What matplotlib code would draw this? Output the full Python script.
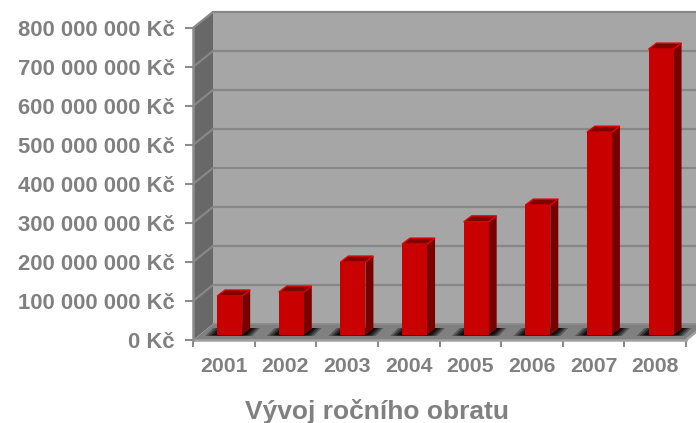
import matplotlib
matplotlib.use("Agg")
import matplotlib.pyplot as plt
from matplotlib.patches import Polygon

years = ['2001', '2002', '2003', '2004', '2005', '2006', '2007', '2008']
turnover = [100e6, 110e6, 187e6, 233e6, 290e6, 333e6, 520e6, 733e6]
y_ticks = [0, 100e6, 200e6, 300e6, 400e6, 500e6, 600e6, 700e6, 800e6]
y_labels = ['0 Kč', '100 000 000 Kč', '200 000 000 Kč', '300 000 000 Kč', '400 000 000 Kč',
            '500 000 000 Kč', '600 000 000 Kč', '700 000 000 Kč', '800 000 000 Kč']
title = 'Vývoj ročního obratu'

W, H = 696, 423
plt.rcParams['font.family'] = ['Liberation Sans', 'DejaVu Sans']
fig = plt.figure(figsize=(W / 100, H / 100), dpi=100, facecolor='white')
# front plane of the 3d box, in pixels
left, right, bottom, top = 193, 686, 340, 28
ax = fig.add_axes([left / W, 1 - bottom / H, (right - left) / W, (bottom - top) / H])
ax.set_xlim(0, 8)
ax.set_ylim(0, 800e6)
ax.patch.set_visible(False)

# depth of the box and of the bars, in data units
px_x = 8 / (right - left)
px_y = 800e6 / (bottom - top)
depth_x, depth_y = 20 * px_x, 16 * px_y
bar_off_y = 5 * px_y
bar_dx, bar_dy = 8 * px_x, 6 * px_y
bar_w = 25 * px_x
grid_col = '#878787'


def poly(pts, **kw):
    kw.setdefault('clip_on', False)
    kw.setdefault('linewidth', 0)
    ax.add_patch(Polygon(pts, closed=True, **kw))


ymax = y_ticks[-1]
# back wall, side wall, floor
poly([(depth_x, depth_y), (8 + depth_x, depth_y), (8 + depth_x, ymax + depth_y), (depth_x, ymax + depth_y)],
     facecolor='#a6a6a6', zorder=1)
poly([(0, 0), (depth_x, depth_y), (depth_x, ymax + depth_y), (0, ymax)], facecolor='#686868', zorder=1)
poly([(0, 0), (8, 0), (8 + depth_x, depth_y), (depth_x, depth_y)], facecolor='#808080', zorder=1)

# gridlines on both walls
for v in y_ticks[1:]:
    ax.plot([0, depth_x, 8 + depth_x], [v, v + depth_y, v + depth_y], color=grid_col, lw=1.6,
            clip_on=False, zorder=2, solid_joinstyle='miter')
ax.plot([0, 8], [0, 0], color='#a0a0a0', lw=1.8, clip_on=False, zorder=3)
ax.plot([8, 8 + depth_x], [0, depth_y], color='#a0a0a0', lw=1.8, clip_on=False, zorder=3)
ax.plot([depth_x, depth_x + 8], [depth_y, depth_y], color='#8a8a8a', lw=1.2, clip_on=False, zorder=2)
ax.plot([0, 0], [0, ymax], color='#8c8c8c', lw=1.8, clip_on=False, zorder=3)

for i, val in enumerate(turnover):
    x0 = i + 0.5 - bar_w / 2 + 0.095
    x1 = x0 + bar_w
    b = bar_off_y
    t = val + bar_off_y
    # floor shadow, blurred by stacking
    for grow, a in [(1.0, 0.3), (0.75, 0.4), (0.5, 0.55), (0.25, 0.8)]:
        l_ext = 12 * grow * px_x
        r_ext = 10 * grow * px_x
        low = b - 1 * grow * px_y
        high = b + 7 * px_y
        poly([(x0 - l_ext, low), (x1 + r_ext, low), (x1 + r_ext + 8 * px_x, high), (x0 - l_ext + 8 * px_x, high)],
             facecolor='black', alpha=a, zorder=3)
    # side, top, front
    poly([(x1, b), (x1 + bar_dx, b + bar_dy), (x1 + bar_dx, t + bar_dy), (x1, t)], facecolor='#780000', zorder=4)
    poly([(x0, t), (x1, t), (x1 + bar_dx, t + bar_dy), (x0 + bar_dx, t + bar_dy)], facecolor='#800000',
         edgecolor='#e60000', linewidth=1.0, zorder=5)
    ax.bar(x0, val, width=bar_w, bottom=b, align='edge', color='#c80000', clip_on=False, zorder=6)

for s in ax.spines.values():
    s.set_visible(False)
ax.set_xticks(range(9))
ax.set_xticklabels([])
ax.set_xticks([i + 0.5 for i in range(8)], minor=True)
ax.set_xticklabels(years, minor=True, fontsize=15.3, fontweight='bold', color='#808080')
ax.tick_params(axis='x', which='major', length=5, width=1.5, color='#8c8c8c')
ax.tick_params(axis='x', which='minor', length=0, pad=12)
ax.set_yticks(y_ticks)
ax.set_yticklabels(y_labels, fontsize=15.8, fontweight='bold', color='#808080')
ax.tick_params(axis='y', length=6, width=1.5, color='#8c8c8c', pad=7)

fig.text(377 / W, 1 - 411 / H, title, ha='center', va='center', fontsize=19, fontweight='bold', color='#808080')
fig.savefig('out.png', dpi=100, facecolor='white')
